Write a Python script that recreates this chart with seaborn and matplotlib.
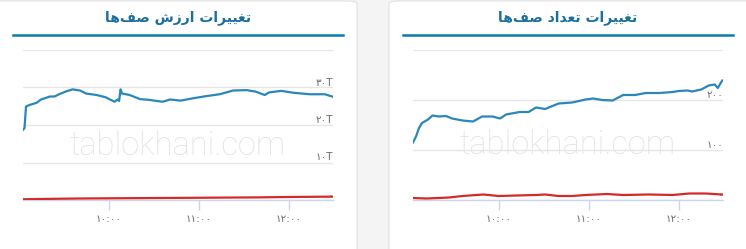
import matplotlib
matplotlib.use("Agg")
import matplotlib.pyplot as plt
from matplotlib.patches import FancyBboxPatch
from matplotlib.lines import Line2D
import matplotlib.transforms as mtransforms
import seaborn as sns
import pandas as pd

# ---------------- data ----------------
title_value = "تغییرات ارزش صف\u200cها"
title_count = "تغییرات تعداد صف\u200cها"
watermark = "tablokhani.com"

x_ticks = ["10:00", "11:00", "12:00"]
x_tick_labels = ["۱۰:۰۰", "۱۱:۰۰", "۱۲:۰۰"]

value_yticks = [0, 10, 20, 30, 40]
value_ytick_labels = ["۰", "۱۰T", "۲۰T", "۳۰T", ""]
count_yticks = [0, 100, 200, 300]
count_ytick_labels = ["۰", "۱۰۰", "۲۰۰", ""]

# value of queues (trillion) - buy queue (blue)
value_buy_times = ["09:03", "09:04", "09:05", "09:07", "09:12", "09:15", "09:21", "09:24",
                   "09:27", "09:32", "09:36", "09:41", "09:45", "09:52", "09:58", "10:04",
                   "10:06", "10:07", "10:08", "10:09", "10:14", "10:21", "10:27", "10:36",
                   "10:41", "10:48", "10:56", "11:05", "11:14", "11:23", "11:32", "11:38",
                   "11:44", "11:47", "11:55", "12:03", "12:14", "12:24", "12:29"]
value_buy = [18.7, 19.2, 24.9, 25.3, 25.9, 26.8, 27.6, 27.6,
             28.2, 29.0, 29.5, 29.2, 28.4, 28.0, 27.4, 26.2,
             26.8, 26.4, 29.5, 28.4, 28.0, 26.9, 26.7, 26.2,
             26.8, 26.5, 27.1, 27.7, 28.2, 29.2, 29.3, 28.9,
             28.0, 28.7, 29.1, 28.6, 28.2, 28.2, 27.6]
# value of queues (trillion) - sell queue (red)
value_sell_times = ["09:03", "09:20", "09:40", "10:00", "10:20", "10:40", "11:00",
                    "11:20", "11:40", "12:00", "12:15", "12:29"]
value_sell = [0.2, 0.3, 0.4, 0.45, 0.5, 0.55, 0.6, 0.65, 0.7, 0.8, 0.85, 0.9]

# number of queues - buy (blue)
count_buy_times = ["09:03", "09:05", "09:07", "09:09", "09:13", "09:16", "09:20", "09:25",
                   "09:29", "09:36", "09:43", "09:49", "09:56", "10:01", "10:05", "10:14",
                   "10:20", "10:25", "10:31", "10:40", "10:49", "10:58", "11:03", "11:09",
                   "11:16", "11:23", "11:31", "11:38", "11:47", "11:56", "12:00", "12:06",
                   "12:09", "12:15", "12:20", "12:24", "12:26", "12:29"]
count_buy = [115, 127, 144, 154, 161, 169, 167, 168,
             163, 159, 157, 167, 167, 163, 171, 176,
             176, 185, 182, 193, 195, 201, 203, 200,
             199, 210, 210, 214, 214, 216, 218, 219,
             217, 221, 229, 231, 224, 239]
# number of queues - sell (red)
count_sell_times = ["09:03", "09:12", "09:27", "09:36", "09:50", "10:00", "10:12", "10:25",
                    "10:31", "10:40", "10:49", "10:58", "11:12", "11:23", "11:40", "11:56",
                    "12:07", "12:18", "12:29"]
count_sell = [4, 3, 5, 8, 11, 8, 9, 10, 11, 8, 8, 10, 12, 10, 11, 10, 13, 13, 11]

# ---------------- helpers ----------------
FORMS = {
    'ا': ('\uFE8D', '\uFE8E', None, None),
    'د': ('\uFEA9', '\uFEAA', None, None),
    'ر': ('\uFEAD', '\uFEAE', None, None),
    'ز': ('\uFEAF', '\uFEB0', None, None),
    'ت': ('\uFE95', '\uFE96', '\uFE97', '\uFE98'),
    'ش': ('\uFEB5', '\uFEB6', '\uFEB7', '\uFEB8'),
    'ص': ('\uFEB9', '\uFEBA', '\uFEBB', '\uFEBC'),
    'ع': ('\uFEC9', '\uFECA', '\uFECB', '\uFECC'),
    'غ': ('\uFECD', '\uFECE', '\uFECF', '\uFED0'),
    'ف': ('\uFED1', '\uFED2', '\uFED3', '\uFED4'),
    'ه': ('\uFEE9', '\uFEEA', '\uFEEB', '\uFEEC'),
    'ی': ('\uFEEF', '\uFEF0', '\uFEF3', '\uFEF4'),
}


def shape_rtl(s):
    out = []
    n = len(s)
    for i, ch in enumerate(s):
        if ch not in FORMS:
            if ch != '\u200c':
                out.append(ch)
            continue
        f = FORMS[ch]
        prev = s[i - 1] if i > 0 else None
        nxt = s[i + 1] if i < n - 1 else None
        jp = prev in FORMS and FORMS[prev][2] is not None
        jn = f[2] is not None and nxt in FORMS
        if jp and jn:
            out.append(f[3])
        elif jp:
            out.append(f[1])
        elif jn:
            out.append(f[2])
        else:
            out.append(f[0])
    return "".join(reversed(out))


def to_minutes(times):
    t = pd.to_datetime(pd.Series(times), format="%H:%M")
    return (t.dt.hour - 9) * 60 + t.dt.minute


W, H = 746, 249
fig = plt.figure(figsize=(W / 100, H / 100), dpi=100)
fig.patch.set_facecolor("#f4f4f4")

# cards
for x0, x1 in [(-12, 357), (389, 758)]:
    card = FancyBboxPatch((x0 / W, -12 / H), (x1 - x0) / W, (H + 11) / H,
                          boxstyle="round,pad=0,rounding_size=0.012",
                          transform=fig.transFigure, facecolor="white",
                          edgecolor="#e2e2e2", linewidth=0.8, zorder=-5)
    fig.patches.append(card)

BLUE = "#2a87bb"
RED = "#d42a2a"
GRID = "#e6e6e6"
AXIS = "#ccd6eb"
LABEL = "#6b6b6b"

panels = [
    dict(left=23, title=title_value, tcx=178, ux=(13, 343), wm_base=155,
         buy_t=value_buy_times, buy=value_buy, sell_t=value_sell_times, sell=value_sell,
         yt=value_yticks, ytl=value_ytick_labels, ylim=(0, 40)),
    dict(left=413, title=title_count, tcx=568, ux=(403, 733), wm_base=154,
         buy_t=count_buy_times, buy=count_buy, sell_t=count_sell_times, sell=count_sell,
         yt=count_yticks, ytl=count_ytick_labels, ylim=(0, 300)),
]

for p in panels:
    ax = fig.add_axes([p["left"] / W, 1 - 200 / H, 310 / W, 150 / H])
    ax.set_facecolor("none")
    dfb = pd.DataFrame({"t": to_minutes(p["buy_t"]), "v": p["buy"]})
    dfs = pd.DataFrame({"t": to_minutes(p["sell_t"]), "v": p["sell"]})
    sns.lineplot(data=dfb, x="t", y="v", ax=ax, color=BLUE, linewidth=1.6, zorder=3)
    sns.lineplot(data=dfs, x="t", y="v", ax=ax, color=RED, linewidth=1.6, zorder=3)
    ax.set_xlim(3, 209.5)
    ax.set_ylim(*p["ylim"])
    ax.set_xlabel("")
    ax.set_ylabel("")
    for s in ["top", "left", "right"]:
        ax.spines[s].set_visible(False)
    ax.spines["bottom"].set_color(AXIS)
    ax.spines["bottom"].set_linewidth(1)
    ax.spines["bottom"].set_zorder(2)
    ax.set_yticks(p["yt"])
    ax.set_yticklabels([])
    ax.tick_params(axis="y", length=0)
    ax.grid(axis="y", color=GRID, linewidth=1, zorder=0)
    ax.grid(axis="x", visible=False)
    ax.set_xticks(list(to_minutes(x_ticks)))
    ax.set_xticklabels(x_tick_labels, fontsize=7.5, color=LABEL, family="DejaVu Sans")
    ax.tick_params(axis="x", length=7, width=1, color=AXIS, pad=3)
    trans = mtransforms.blended_transform_factory(ax.transAxes, ax.transData)
    for v, lab in zip(p["yt"], p["ytl"]):
        if lab:
            ax.text(1.0, v, lab, transform=trans, ha="right", va="bottom",
                    fontsize=7.5, color=LABEL, family="DejaVu Sans", zorder=4,
                    clip_on=False)
    # watermark
    ax.text(0.5, 1 - p["wm_base"] / H, watermark,
            transform=mtransforms.blended_transform_factory(ax.transAxes, fig.transFigure),
            ha="center", va="baseline", fontsize=23.5, color="#e2e2e2",
            family="Roboto", fontweight="light", zorder=1)
    # title and underline
    fig.text(p["tcx"] / W, 1 - 18 / H, shape_rtl(p["title"]), ha="center", va="center",
             fontsize=10, fontweight="bold", color="#1a6f9c", family="DejaVu Sans")
    fig.lines.append(Line2D([p["ux"][0] / W, p["ux"][1] / W], [1 - 35 / H, 1 - 35 / H],
                            transform=fig.transFigure, color="#0b7bb1", linewidth=1.8))

fig.savefig("out.png", dpi=100, facecolor=fig.get_facecolor())
